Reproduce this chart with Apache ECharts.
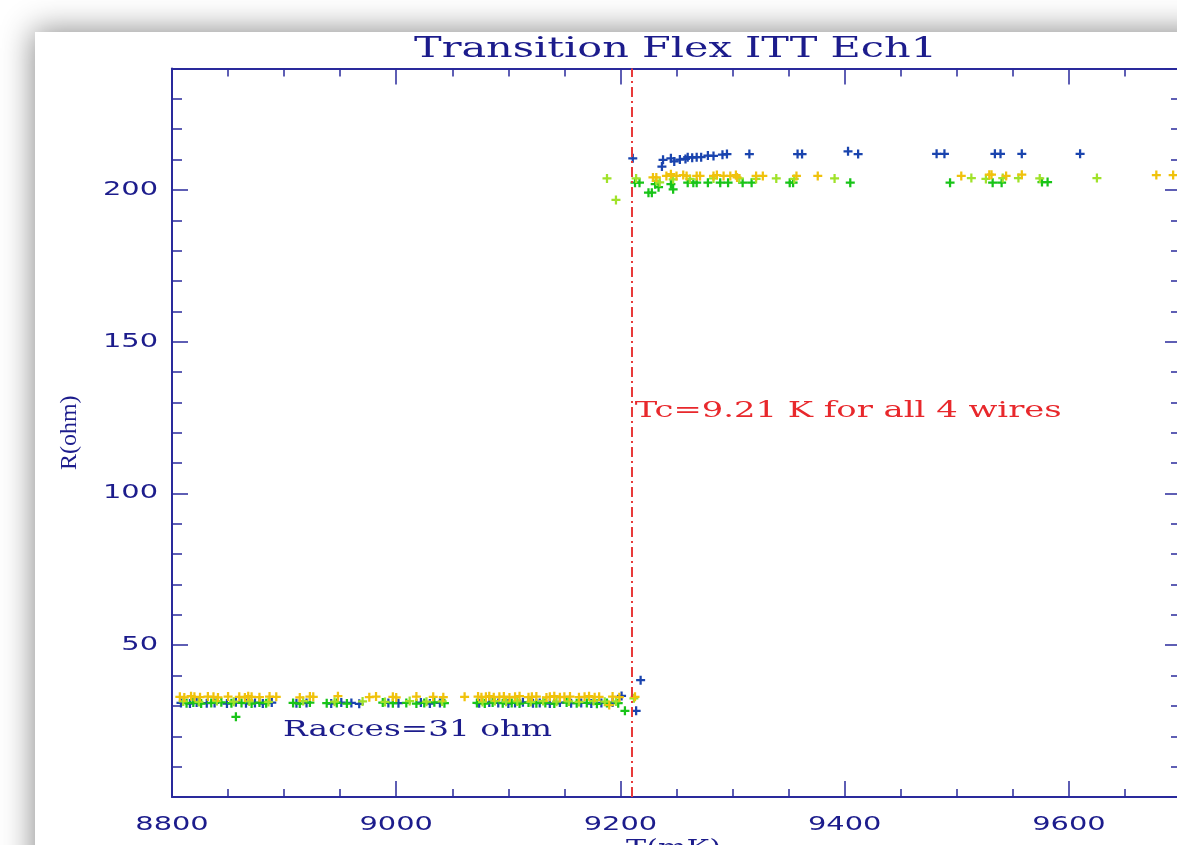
<!DOCTYPE html>
<html>
<head>
    <meta charset="utf-8">
    <script src="https://cdn.jsdelivr.net/npm/echarts@6/dist/echarts.min.js"></script>
    <style>
        body {
            margin: 0px;
            padding: 0px;
            background: #fff;
            overflow: hidden;
        }
        #frame {
            position: absolute;
            left: 35px;
            top: 32px;
            width: 1300px;
            height: 1000px;
            background: #fff;
            box-shadow: 0 0 30px 2px rgba(0, 0, 0, 0.45);
        }
        #chart {
            position: absolute;
            left: 0px;
            top: 0px;
            width: 1177px;
            height: 845px;
        }
    </style>
</head>
<body>
    <div id="frame"></div>
    <div id="chart"></div>
    <script>
        // four wires, each a low (superconducting) and a high (normal) branch: [T (mK), R (ohm)]
        var blueLow = [[8808, 31.0], [8816, 30.8], [8822, 31.1], [8831, 30.9], [8838, 31.0], [8849, 30.8], [8857, 31.2],
            [8866, 30.9], [8874, 31.0], [8881, 30.8], [8889, 31.1], [8911, 30.9], [8920, 31.0], [8942, 30.8], [8951, 31.1],
            [8960, 31.0], [8967, 30.7], [8993, 31.0], [9002, 30.9], [9022, 31.1], [9030, 30.8], [9039, 31.0], [9074, 30.9],
            [9083, 31.1], [9091, 31.0], [9100, 30.8], [9106, 31.0], [9113, 31.2], [9122, 30.9], [9128, 31.0], [9137, 30.8],
            [9146, 31.1], [9156, 30.9], [9165, 31.0], [9174, 30.8], [9183, 31.0], [9193, 31.1], [9201, 33.3], [9214, 28.4],
            [9218, 38.5]];
        var blueHigh = [[9211, 210.4], [9237, 207.7], [9238, 209.9], [9245, 210.4], [9248, 209.4], [9253, 210.0],
            [9258, 210.2], [9260, 210.8], [9264, 210.6], [9268, 210.8], [9272, 210.8], [9278, 211.3], [9283, 211.2],
            [9291, 211.6], [9295, 211.8], [9315, 211.8], [9358, 211.8], [9362, 211.8], [9403, 212.7], [9412, 211.8],
            [9482, 211.9], [9489, 211.9], [9534, 211.9], [9539, 211.9], [9558, 211.9], [9610, 211.9]];
        var greenLow = [[8813, 30.9], [8819, 31.1], [8826, 30.8], [8835, 31.0], [8844, 31.2], [8853, 30.9], [8857, 26.4],
            [8862, 31.0], [8871, 30.8], [8878, 31.1], [8884, 30.9], [8908, 31.0], [8914, 30.8], [8923, 31.1], [8938, 30.9],
            [8947, 31.0], [8956, 30.8], [8988, 31.1], [8997, 30.9], [9009, 31.0], [9018, 30.8], [9025, 31.0], [9034, 31.2],
            [9043, 30.9], [9072, 31.0], [9079, 30.8], [9086, 31.1], [9095, 30.9], [9103, 31.0], [9110, 30.8], [9118, 31.1],
            [9125, 30.9], [9133, 31.0], [9141, 30.8], [9152, 31.1], [9161, 30.9], [9170, 31.0], [9179, 30.7], [9188, 31.0],
            [9198, 30.9], [9204, 28.4]];
        var greenHigh = [[9213, 202.4], [9217, 202.4], [9225, 199.1], [9228, 199.1], [9231, 201.9], [9234, 200.9],
            [9245, 201.9], [9247, 200.2], [9260, 202.4], [9265, 202.4], [9268, 202.4], [9278, 202.4], [9289, 202.4],
            [9296, 202.4], [9309, 202.4], [9317, 202.4], [9351, 202.4], [9354, 202.4], [9405, 202.4], [9494, 202.4],
            [9532, 202.4], [9540, 202.4], [9576, 202.6], [9581, 202.6]];
        var limeLow = [[8810, 31.5], [8824, 31.3], [8840, 31.6], [8855, 31.4], [8869, 31.5], [8886, 31.3], [8917, 31.6],
            [8945, 31.4], [8970, 31.5], [8990, 31.3], [9012, 31.6], [9027, 31.4], [9041, 31.5], [9077, 31.3], [9088, 31.6],
            [9098, 31.4], [9108, 31.5], [9120, 31.3], [9131, 31.6], [9143, 31.4], [9154, 31.5], [9163, 31.3], [9176, 31.6],
            [9186, 31.4], [9196, 31.5], [9212, 32.5]];
        var limeHigh = [[9188, 203.8], [9196, 196.7], [9214, 203.8], [9232, 203.0], [9235, 202.5], [9247, 203.5],
            [9262, 203.6], [9283, 203.8], [9306, 203.8], [9321, 203.6], [9339, 203.8], [9355, 203.6], [9391, 203.8],
            [9513, 203.9], [9526, 203.6], [9541, 203.9], [9555, 203.9], [9574, 203.8], [9625, 203.9]];
        var goldLow = [[8807, 33.0], [8811, 32.8], [8817, 33.2], [8820, 33.0], [8825, 32.9], [8832, 33.1], [8837, 33.0],
            [8841, 32.8], [8850, 33.1], [8860, 33.0], [8865, 32.8], [8868, 33.2], [8871, 33.0], [8878, 32.9], [8887, 33.1],
            [8893, 33.0], [8914, 32.8], [8923, 33.1], [8926, 33.0], [8948, 33.2], [8976, 32.9], [8982, 33.1], [8997, 33.0],
            [9000, 32.8], [9018, 33.1], [9033, 33.0], [9042, 32.9], [9061, 33.0], [9073, 33.1], [9076, 32.9], [9080, 33.0],
            [9083, 33.2], [9087, 32.9], [9092, 33.0], [9096, 33.1], [9101, 32.8], [9106, 33.0], [9110, 33.2], [9118, 32.9],
            [9121, 33.0], [9125, 33.1], [9134, 32.8], [9137, 33.0], [9141, 33.2], [9146, 32.9], [9150, 33.0], [9155, 33.1],
            [9163, 32.9], [9168, 33.0], [9172, 33.2], [9177, 32.9], [9181, 33.0], [9190, 30.3], [9193, 33.1], [9199, 32.9],
            [9213, 33.0]];
        var goldHigh = [[9229, 204.1], [9232, 204.1], [9241, 204.6], [9245, 205.2], [9250, 204.6], [9256, 204.9],
            [9259, 204.6], [9268, 204.6], [9271, 204.6], [9283, 204.6], [9286, 204.9], [9292, 204.6], [9298, 204.6],
            [9303, 204.9], [9304, 204.1], [9321, 204.6], [9327, 204.6], [9357, 204.6], [9376, 204.6], [9504, 204.6],
            [9529, 205.0], [9531, 205.0], [9544, 204.6], [9558, 205.0], [9678, 204.9], [9693, 204.9]];

        var tcValue = 9210;
        var xTicks = [8800, 9000, 9200, 9400, 9600];
        var yTicks = [50, 100, 150, 200];

        var navy = '#1c1c8c';
        var axisCol = '#2a2a9c';
        var plus = 'path://M3,0H5V3H8V5H5V8H3V5H0V3H3Z';

        var chart = echarts.init(document.getElementById('chart'));

        function xAx(pos, major) {
            return {
                type: 'value', position: pos, min: 8800, max: 9700,
                interval: major ? 200 : 50,
                axisLine: { show: major, onZero: false, lineStyle: { color: axisCol, width: 2 } },
                axisTick: { inside: true, length: major ? 16 : 8, lineStyle: { color: axisCol, width: 1.5 } },
                axisLabel: { show: false },
                splitLine: { show: false }
            };
        }
        function yAx(pos, major) {
            return {
                type: 'value', position: pos, min: 0, max: 240,
                interval: major ? 50 : 10,
                axisLine: { show: major, onZero: false, lineStyle: { color: axisCol, width: 2 } },
                axisTick: { inside: true, length: major ? 16 : 10, lineStyle: { color: axisCol, width: 1.5 } },
                axisLabel: { show: false },
                name: major && pos === 'left' ? 'R(ohm)' : '',
                nameLocation: 'middle', nameGap: 90,
                nameTextStyle: { color: navy, fontFamily: 'Liberation Serif', fontSize: 24 },
                splitLine: { show: false }
            };
        }

        function wire(name, color, data) {
            return {
                name: name, type: 'scatter', data: data, symbol: plus, symbolSize: 9,
                itemStyle: { color: color, opacity: 1 }, silent: true, animation: false
            };
        }

        var series = [
            wire('wire1', '#1a44ae', blueLow.concat(blueHigh)),
            wire('wire2', '#18c418', greenLow.concat(greenHigh)),
            wire('wire3', '#a0e22a', limeLow.concat(limeHigh)),
            wire('wire4', '#f0c20c', goldLow.concat(goldHigh))
        ];
        series[0].markLine = {
            silent: true, symbol: 'none', animation: false,
            label: { show: false },
            lineStyle: { color: '#e83a3a', width: 2, type: [10, 4, 2, 4] },
            data: [{ xAxis: tcValue }]
        };

        chart.setOption({
            animation: false,
            grid: { left: 172, top: 68.5, right: -4, bottom: 48, outerBoundsMode: 'none', containLabel: false },
            xAxis: [xAx('bottom', true), xAx('bottom', false), xAx('top', true), xAx('top', false)],
            yAxis: [yAx('left', true), yAx('left', false), yAx('right', true), yAx('right', false)],
            series: series
        });

        // the plot's vector font is very wide: stretch text horizontally to its width
        var ctx = document.createElement('canvas').getContext('2d');
        function wideText(str, px, py, size, family, color, align, width, scale) {
            var font = size + 'px "' + family + '"';
            ctx.font = font;
            var s = width ? width / ctx.measureText(str).width : scale;
            return {
                type: 'text', x: px, y: py, scaleX: s, silent: true, z: 100,
                style: {
                    text: str, font: font, fill: color, textFill: color,
                    align: align, textAlign: align, verticalAlign: 'middle', textVerticalAlign: 'middle'
                }
            };
        }
        function px(x, y) {
            return chart.convertToPixel({ xAxisIndex: 0, yAxisIndex: 0 }, [x, y]);
        }

        var g = [];
        var bottomY = px(8800, 0)[1];
        var plotMid = (px(8800, 0)[0] + px(9700, 0)[0]) / 2;
        var topY = px(8800, 240)[1];
        xTicks.forEach(function (v) {
            g.push(wideText(String(v), px(v, 0)[0], bottomY + 28, 19, 'DejaVu Sans', navy, 'center', 0, 1.52));
        });
        yTicks.forEach(function (v) {
            g.push(wideText(String(v), px(8800, v)[0] - 14, px(8800, v)[1], 19, 'DejaVu Sans', navy, 'right', 0, 1.52));
        });
        g.push(wideText('Transition Flex ITT Ech1', plotMid - 1, topY - 19, 28, 'DejaVu Serif', navy, 'center', 523));
        g.push(wideText('T(mK)', plotMid - 3, bottomY + 52, 23, 'DejaVu Serif', navy, 'center', 95));
        var tc = px(tcValue, 127);
        g.push(wideText('Tc=9.21 K for all 4 wires', tc[0] + 3, tc[1], 23, 'DejaVu Serif', '#e8282c', 'left', 427));
        var ra = px(8899, 22);
        g.push(wideText('Racces=31 ohm', ra[0], ra[1], 23, 'DejaVu Serif', navy, 'left', 269));

        chart.setOption({ graphic: g });
    </script>
</body>
</html>
